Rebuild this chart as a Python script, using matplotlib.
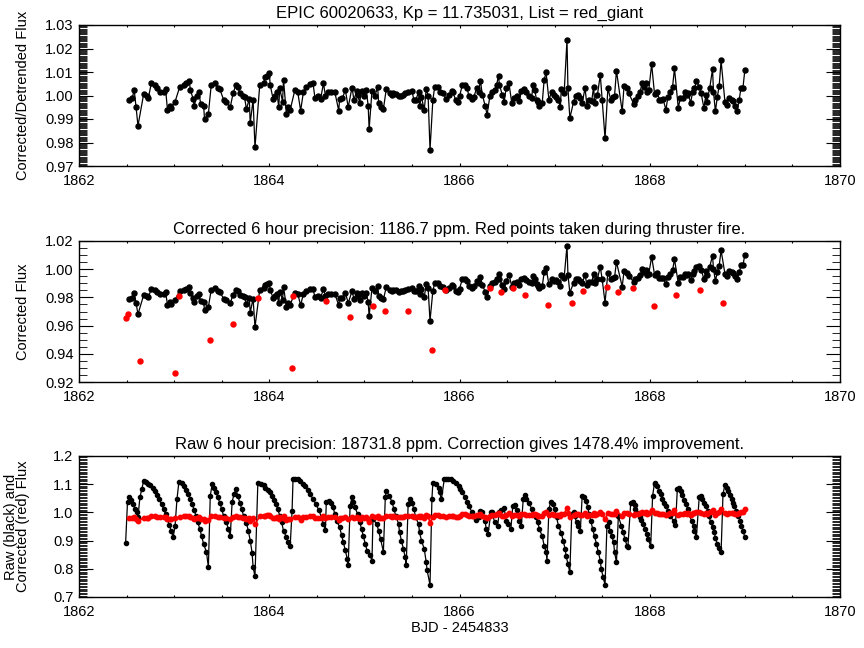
import numpy as np
import matplotlib.pyplot as plt
from matplotlib.ticker import MultipleLocator, FormatStrFormatter

plt.rcParams['font.family'] = ['Liberation Sans', 'DejaVu Sans']

# ---- detrended / corrected light curve (thruster fires removed) ----
t_good = [
    1862.53, 1862.56, 1862.58, 1862.60, 1862.62, 1862.68, 1862.71, 1862.73, 1862.76, 1862.80,
    1862.82, 1862.85, 1862.89, 1862.91, 1862.93, 1862.96, 1862.97, 1863.01, 1863.06, 1863.10,
    1863.13, 1863.16, 1863.17, 1863.20, 1863.21, 1863.24, 1863.26, 1863.28, 1863.31, 1863.32,
    1863.36, 1863.39, 1863.43, 1863.46, 1863.48, 1863.52, 1863.55, 1863.59, 1863.62, 1863.65,
    1863.67, 1863.69, 1863.72, 1863.74, 1863.76, 1863.79, 1863.80, 1863.83, 1863.85, 1863.90,
    1863.94, 1863.96, 1863.98, 1864.00, 1864.01, 1864.04, 1864.06, 1864.08, 1864.10, 1864.11,
    1864.14, 1864.15, 1864.18, 1864.20, 1864.22, 1864.27, 1864.30, 1864.33, 1864.36, 1864.39,
    1864.43, 1864.46, 1864.48, 1864.51, 1864.54, 1864.57, 1864.59, 1864.62, 1864.65, 1864.69,
    1864.73, 1864.74, 1864.77, 1864.80, 1864.83, 1864.87, 1864.89, 1864.92, 1864.93, 1864.95,
    1864.97, 1865.00, 1865.02, 1865.04, 1865.05,
    1865.08, 1865.11, 1865.14, 1865.15, 1865.17, 1865.20, 1865.23, 1865.27, 1865.29, 1865.30,
    1865.33, 1865.36, 1865.38, 1865.41, 1865.43, 1865.46, 1865.50,
    1865.52, 1865.54, 1865.57, 1865.58, 1865.60, 1865.63, 1865.65, 1865.67, 1865.69, 1865.72,
    1865.74, 1865.77, 1865.79, 1865.83, 1865.86, 1865.89, 1865.92, 1865.93, 1865.96, 1865.98,
    1866.00,
    1866.03, 1866.06, 1866.08, 1866.10, 1866.13, 1866.15, 1866.18, 1866.20, 1866.22, 1866.24,
    1866.27, 1866.29, 1866.32, 1866.34, 1866.37, 1866.39, 1866.41, 1866.42, 1866.45, 1866.47,
    1866.49,
    1866.52, 1866.55, 1866.57, 1866.60, 1866.63, 1866.65, 1866.68, 1866.70, 1866.73, 1866.76,
    1866.77, 1866.79, 1866.81, 1866.83, 1866.84, 1866.87, 1866.89, 1866.91, 1866.94, 1866.97,
    1866.99,
    1867.01, 1867.04, 1867.06, 1867.07, 1867.10, 1867.13, 1867.14, 1867.16, 1867.20, 1867.22,
    1867.25, 1867.27, 1867.29, 1867.32, 1867.34, 1867.36, 1867.39, 1867.41, 1867.42, 1867.45,
    1867.48,
    1867.50, 1867.53, 1867.56, 1867.59, 1867.61, 1867.63, 1867.65, 1867.71, 1867.73, 1867.76,
    1867.78, 1867.83, 1867.85, 1867.88, 1867.90, 1867.92, 1867.94, 1867.96, 1867.97, 1867.99,
    1868.02, 1868.05, 1868.08, 1868.10, 1868.12, 1868.14, 1868.17, 1868.19, 1868.21, 1868.24,
    1868.26, 1868.30, 1868.32, 1868.35, 1868.37, 1868.39, 1868.40, 1868.43, 1868.45, 1868.47,
    1868.49,
    1868.52, 1868.54, 1868.57, 1868.59, 1868.60, 1868.63, 1868.66, 1868.67, 1868.69, 1868.71,
    1868.73, 1868.75,
    1868.79, 1868.81, 1868.83, 1868.86, 1868.88, 1868.90, 1868.92, 1868.94, 1868.96, 1868.98,
    1869.00,
]
flux_detrended = [
    0.9982, 0.9989, 1.0024, 0.9950, 0.9871, 1.0007, 0.9999, 0.9991, 1.0052, 1.0045,
    1.0031, 1.0017, 1.0013, 1.0028, 0.9939, 0.9956, 0.9946, 0.9974, 1.0038, 1.0045,
    1.0052, 1.0062, 1.0024, 0.9986, 0.9956, 1.0000, 1.0013, 0.9963, 0.9956, 0.9899,
    0.9921, 1.0045, 1.0055, 1.0034, 1.0028, 0.9982, 0.9974, 0.9950, 1.0010, 1.0045,
    1.0038, 1.0010, 0.9999, 0.9993, 0.9942, 0.9986, 0.9882, 0.9982, 0.9779, 1.0045,
    1.0055, 1.0077, 1.0084, 1.0095, 1.0045, 0.9986, 0.9999, 1.0017, 0.9949, 1.0031,
    0.9974, 1.0067, 0.9922, 0.9953, 0.9939, 1.0024, 1.0013, 0.9936, 1.0017, 1.0038,
    1.0048, 1.0052, 0.9991, 0.9999, 0.9986, 1.0052, 1.0000, 1.0017, 1.0013, 1.0013,
    0.9936, 0.9984, 0.9989, 1.0024, 0.9950, 1.0034, 0.9982, 1.0020, 1.0003, 0.9970,
    1.0021, 0.9999, 1.0024, 0.9956, 0.9857,
    1.0020, 0.9999, 1.0035, 0.9967, 0.9950, 0.9942, 1.0027, 1.0010, 1.0003, 1.0010,
    1.0007, 0.9996, 0.9999, 1.0003, 1.0010, 1.0017, 1.0020,
    0.9982, 0.9982, 1.0013, 0.9956, 0.9993, 0.9939, 1.0028, 0.9999, 0.9769, 0.9982,
    1.0038, 1.0038, 1.0017, 1.0010, 0.9984, 1.0003, 1.0020, 1.0013, 0.9982, 0.9974,
    0.9996,
    1.0045, 1.0045, 1.0031, 0.9996, 0.9984, 0.9993, 1.0031, 1.0017, 1.0062, 1.0003,
    0.9956, 0.9918, 0.9999, 1.0017, 1.0024, 1.0045, 1.0084, 1.0045, 1.0003, 0.9974,
    1.0031,
    1.0052, 0.9967, 0.9989, 0.9996, 0.9977, 1.0020, 1.0027, 1.0013, 0.9999, 0.9989,
    1.0045, 1.0024, 0.9982, 0.9974, 0.9956, 0.9970, 1.0067, 1.0098, 0.9982, 1.0017,
    1.0003,
    0.9993, 0.9982, 0.9950, 1.0027, 1.0010, 1.0237, 1.0031, 0.9904, 0.9974, 0.9999,
    1.0003, 0.9989, 0.9970, 1.0031, 0.9956, 0.9982, 0.9977, 1.0038, 0.9970, 1.0003,
    1.0088,
    0.9982, 0.9818, 1.0031, 0.9982, 0.9993, 0.9999, 1.0106, 0.9932, 1.0041, 1.0031,
    1.0010, 0.9965, 0.9982, 0.9996, 1.0017, 1.0055, 1.0038, 1.0052, 1.0013, 1.0024,
    1.0133, 1.0007, 1.0017, 0.9982, 0.9982, 0.9984, 0.9939, 0.9993, 1.0013, 1.0038,
    1.0116, 0.9946, 0.9989, 0.9991, 1.0013, 1.0003, 1.0010, 0.9970, 1.0013, 1.0031,
    1.0060,
    1.0038, 1.0010, 0.9946, 1.0003, 0.9974, 1.0031, 1.0112, 1.0017, 0.9932, 0.9993,
    1.0041, 1.0149,
    0.9974, 0.9960, 0.9991, 0.9982, 0.9977, 0.9956, 0.9935, 0.9982, 1.0034, 1.0034,
    1.0109,
]
flux_corrected = [
    0.9792, 0.9799, 0.9834, 0.9760, 0.9681, 0.9817, 0.9809, 0.9801, 0.9862, 0.9855,
    0.9841, 0.9827, 0.9823, 0.9838, 0.9749, 0.9766, 0.9756, 0.9784, 0.9848, 0.9855,
    0.9862, 0.9872, 0.9834, 0.9796, 0.9766, 0.9810, 0.9823, 0.9773, 0.9766, 0.9709,
    0.9731, 0.9855, 0.9865, 0.9844, 0.9838, 0.9792, 0.9784, 0.9760, 0.9820, 0.9855,
    0.9848, 0.9820, 0.9809, 0.9803, 0.9752, 0.9796, 0.9692, 0.9792, 0.9589, 0.9855,
    0.9865, 0.9887, 0.9894, 0.9905, 0.9855, 0.9796, 0.9809, 0.9827, 0.9759, 0.9841,
    0.9784, 0.9877, 0.9732, 0.9763, 0.9749, 0.9834, 0.9823, 0.9746, 0.9827, 0.9848,
    0.9858, 0.9862, 0.9801, 0.9809, 0.9796, 0.9862, 0.9810, 0.9827, 0.9823, 0.9823,
    0.9746, 0.9794, 0.9799, 0.9834, 0.9760, 0.9844, 0.9792, 0.9830, 0.9813, 0.9780,
    0.9831, 0.9809, 0.9834, 0.9766, 0.9667,
    0.9865, 0.9844, 0.9880, 0.9812, 0.9795, 0.9787, 0.9872, 0.9855, 0.9848, 0.9855,
    0.9852, 0.9841, 0.9844, 0.9848, 0.9855, 0.9862, 0.9865,
    0.9847, 0.9847, 0.9878, 0.9821, 0.9858, 0.9804, 0.9893, 0.9864, 0.9634, 0.9847,
    0.9903, 0.9903, 0.9882, 0.9875, 0.9849, 0.9868, 0.9885, 0.9878, 0.9847, 0.9839,
    0.9861,
    0.9930, 0.9930, 0.9916, 0.9881, 0.9869, 0.9878, 0.9916, 0.9902, 0.9947, 0.9888,
    0.9841, 0.9803, 0.9884, 0.9902, 0.9909, 0.9930, 0.9969, 0.9930, 0.9888, 0.9859,
    0.9916,
    0.9962, 0.9877, 0.9899, 0.9906, 0.9887, 0.9930, 0.9937, 0.9923, 0.9909, 0.9899,
    0.9955, 0.9934, 0.9892, 0.9884, 0.9866, 0.9880, 0.9977, 1.0008, 0.9892, 0.9927,
    0.9913,
    0.9923, 0.9912, 0.9880, 0.9957, 0.9940, 1.0167, 0.9961, 0.9834, 0.9904, 0.9929,
    0.9933, 0.9919, 0.9900, 0.9961, 0.9886, 0.9912, 0.9907, 0.9968, 0.9900, 0.9933,
    1.0018,
    0.9927, 0.9763, 0.9976, 0.9927, 0.9938, 0.9944, 1.0051, 0.9877, 0.9986, 0.9976,
    0.9955, 0.9910, 0.9927, 0.9941, 0.9962, 1.0000, 0.9983, 0.9997, 0.9958, 0.9969,
    1.0088, 0.9962, 0.9972, 0.9937, 0.9937, 0.9939, 0.9894, 0.9948, 0.9968, 0.9993,
    1.0071, 0.9901, 0.9944, 0.9946, 0.9968, 0.9958, 0.9965, 0.9925, 0.9968, 0.9986,
    1.0015,
    1.0023, 0.9995, 0.9931, 0.9988, 0.9959, 1.0016, 1.0097, 1.0002, 0.9917, 0.9978,
    1.0026, 1.0134,
    0.9969, 0.9955, 0.9986, 0.9977, 0.9972, 0.9951, 0.9930, 0.9977, 1.0029, 1.0029,
    1.0104,
]

# ---- cadences taken during thruster fire (corrected flux) ----
t_fire = [1862.49, 1862.52, 1862.64, 1863.01, 1863.05, 1863.38, 1863.62, 1863.88,
          1864.24, 1864.25, 1864.60, 1864.85, 1865.09, 1865.22, 1865.46, 1865.71,
          1865.85, 1866.32, 1866.44, 1866.56, 1866.69, 1866.93, 1867.18, 1867.30,
          1867.55, 1867.67, 1867.82, 1868.04, 1868.28, 1868.53, 1868.77]
flux_fire = [0.9655, 0.9681, 0.9350, 0.9267, 0.9809, 0.9496, 0.9608, 0.9797,
             0.9296, 0.9809, 0.9773, 0.9662, 0.9740, 0.9702, 0.9702, 0.9430,
             0.9851, 0.9868, 0.9839, 0.9868, 0.9816, 0.9745, 0.9757, 0.9844,
             0.9875, 0.9835, 0.9870, 0.9738, 0.9820, 0.9851, 0.9757]

# ---- raw light curve ----
t_raw = [
    1862.49, 1862.51, 1862.53, 1862.55, 1862.57, 1862.59, 1862.61, 1862.62, 1862.64, 1862.66,
    1862.68, 1862.70, 1862.73, 1862.75, 1862.78, 1862.80, 1862.82, 1862.84, 1862.87, 1862.89,
    1862.91, 1862.93, 1862.95, 1862.97, 1862.99, 1863.01, 1863.03, 1863.05, 1863.08, 1863.10,
    1863.12, 1863.15, 1863.17, 1863.19, 1863.21, 1863.23, 1863.25, 1863.27, 1863.29, 1863.31,
    1863.34, 1863.36, 1863.38, 1863.40, 1863.42, 1863.44, 1863.46, 1863.48, 1863.50, 1863.52,
    1863.55, 1863.57, 1863.59, 1863.61, 1863.63, 1863.65, 1863.67, 1863.69, 1863.71, 1863.73,
    1863.76, 1863.78, 1863.80, 1863.82, 1863.83, 1863.85, 1863.88, 1863.91, 1863.94, 1863.96,
    1863.99, 1864.01, 1864.03, 1864.05, 1864.07, 1864.09, 1864.11, 1864.13, 1864.15, 1864.18,
    1864.20, 1864.22, 1864.24, 1864.25, 1864.27, 1864.30, 1864.32, 1864.35, 1864.38, 1864.41,
    1864.43, 1864.46, 1864.49, 1864.52, 1864.55, 1864.57, 1864.59, 1864.60, 1864.63, 1864.65,
    1864.67, 1864.69, 1864.71, 1864.74, 1864.76, 1864.78, 1864.80, 1864.82, 1864.83, 1864.85,
    1864.87, 1864.88, 1864.90, 1864.93, 1864.95, 1864.97, 1864.99, 1865.01, 1865.03, 1865.06,
    1865.08, 1865.09, 1865.13, 1865.15, 1865.17, 1865.20, 1865.22, 1865.23, 1865.26, 1865.29,
    1865.31, 1865.33, 1865.36, 1865.37, 1865.39, 1865.41, 1865.43, 1865.44, 1865.46, 1865.48,
    1865.50, 1865.52, 1865.54, 1865.57, 1865.58, 1865.60, 1865.63, 1865.65, 1865.66, 1865.69,
    1865.71, 1865.72, 1865.75, 1865.78, 1865.79, 1865.81, 1865.84, 1865.86, 1865.88, 1865.91,
    1865.93, 1865.96, 1865.99, 1866.01, 1866.03, 1866.06, 1866.08, 1866.10, 1866.13, 1866.14,
    1866.17, 1866.20, 1866.22, 1866.24, 1866.27, 1866.28, 1866.30, 1866.33, 1866.34, 1866.37,
    1866.40, 1866.42, 1866.44, 1866.47, 1866.49, 1866.51, 1866.54, 1866.56, 1866.58, 1866.60,
    1866.63, 1866.65, 1866.67, 1866.69, 1866.70, 1866.73, 1866.76, 1866.77, 1866.80, 1866.82,
    1866.84, 1866.87, 1866.89, 1866.91, 1866.92, 1866.94, 1866.96, 1866.98, 1867.00, 1867.02,
    1867.04, 1867.07, 1867.09, 1867.11, 1867.12, 1867.14, 1867.16, 1867.18, 1867.20, 1867.21,
    1867.23, 1867.25, 1867.27, 1867.29, 1867.31, 1867.33, 1867.35, 1867.36, 1867.38, 1867.40,
    1867.42, 1867.44, 1867.46, 1867.48, 1867.49, 1867.51, 1867.53, 1867.55, 1867.57, 1867.58,
    1867.60, 1867.62, 1867.63, 1867.65, 1867.67, 1867.70, 1867.72, 1867.74, 1867.76, 1867.77,
    1867.80, 1867.82, 1867.84, 1867.85, 1867.88, 1867.90, 1867.91, 1867.93, 1867.95, 1867.97,
    1867.98, 1868.01, 1868.03, 1868.05, 1868.06, 1868.08, 1868.10, 1868.12, 1868.13, 1868.15,
    1868.17, 1868.19, 1868.21, 1868.25, 1868.27, 1868.29, 1868.31, 1868.33, 1868.34, 1868.36,
    1868.38, 1868.40, 1868.41, 1868.44, 1868.46, 1868.47, 1868.49, 1868.52, 1868.54, 1868.55,
    1868.57, 1868.59, 1868.61, 1868.62, 1868.64, 1868.66, 1868.68, 1868.69, 1868.71, 1868.73,
    1868.75, 1868.77, 1868.79, 1868.81, 1868.82, 1868.84, 1868.86, 1868.88, 1868.89, 1868.91,
    1868.93, 1868.95, 1868.96, 1868.98, 1869.00,
]
flux_raw = [
    0.891, 1.038, 1.053, 1.045, 1.029, 1.012, 1.000, 0.982, 1.053, 1.082,
    1.112, 1.108, 1.102, 1.097, 1.088, 1.077, 1.062, 1.047, 1.029, 1.012,
    0.994, 0.976, 0.955, 0.935, 0.912, 0.953, 1.047, 1.108, 1.104, 1.094,
    1.080, 1.065, 1.047, 1.029, 1.009, 0.988, 0.965, 0.941, 0.915, 0.888,
    0.859, 0.806, 1.059, 1.100, 1.088, 1.073, 1.053, 1.035, 1.012, 0.988,
    0.965, 0.941, 0.915, 1.038, 1.065, 1.082, 1.059, 1.035, 1.012, 0.988,
    0.962, 0.935, 0.900, 0.856, 0.806, 0.773, 1.104, 1.102, 1.097, 1.088,
    1.080, 1.071, 1.059, 1.045, 1.029, 1.012, 0.988, 0.965, 0.935, 0.912,
    0.894, 0.880, 1.006, 1.118, 1.120, 1.118, 1.112, 1.102, 1.092, 1.080,
    1.065, 1.047, 1.029, 1.009, 0.982, 0.959, 0.939, 1.038, 1.041, 1.033,
    1.018, 0.994, 0.971, 0.947, 0.920, 0.894, 0.865, 0.835, 0.812, 1.024,
    1.053, 1.038, 1.018, 0.994, 0.967, 0.941, 0.915, 0.888, 0.862, 0.849,
    0.829, 0.976, 0.959, 0.935, 0.906, 0.861, 1.053, 1.077, 1.059, 1.038,
    1.012, 0.988, 0.959, 0.929, 0.900, 0.870, 0.841, 0.814, 1.029, 1.047,
    1.035, 1.012, 0.982, 0.959, 0.929, 0.900, 0.870, 0.823, 0.794, 0.743,
    1.047, 1.106, 1.100, 1.085, 1.071, 1.047, 1.118, 1.120, 1.120, 1.118,
    1.112, 1.104, 1.094, 1.082, 1.071, 1.053, 1.038, 1.021, 1.002, 0.988,
    0.974, 0.982, 1.004, 1.000, 0.971, 0.941, 0.923, 1.000, 1.002, 0.965,
    0.953, 1.002, 1.008, 1.014, 0.971, 0.959, 0.941, 1.024, 1.026, 1.009,
    0.971, 0.953, 1.047, 1.061, 1.047, 1.033, 1.012, 0.994, 0.982, 0.967,
    0.941, 0.915, 0.882, 0.861, 0.829, 1.012, 1.038, 1.029, 1.012, 0.982,
    0.953, 0.927, 0.900, 0.870, 0.847, 0.817, 0.788, 0.994, 1.000, 0.988,
    0.965, 0.953, 0.935, 1.059, 1.053, 1.041, 1.018, 0.994, 0.971, 0.941,
    0.915, 0.888, 0.859, 0.829, 0.800, 0.770, 0.743, 0.953, 0.965, 0.935,
    0.918, 0.894, 0.859, 0.823, 0.988, 0.953, 0.929, 0.906, 0.882, 0.876,
    1.035, 1.038, 1.026, 1.012, 0.998, 0.982, 0.974, 0.959, 0.941, 0.923,
    0.906, 0.882, 1.059, 1.104, 1.100, 1.092, 1.077, 1.065, 1.049, 1.035,
    1.024, 1.006, 0.988, 0.971, 0.955, 1.082, 1.085, 1.077, 1.061, 1.045,
    1.029, 1.012, 0.994, 0.971, 0.953, 0.935, 0.912, 1.053, 1.059, 1.049,
    1.035, 1.021, 1.006, 0.988, 0.967, 0.947, 0.929, 0.908, 0.888, 0.873,
    0.859, 1.065, 1.097, 1.088, 1.077, 1.061, 1.049, 1.035, 1.021, 1.006,
    0.988, 0.971, 0.953, 0.935, 0.912,
]

title_top = "EPIC 60020633, Kp = 11.735031, List = red_giant"
title_mid = "Corrected 6 hour precision: 1186.7 ppm. Red points taken during thruster fire."
title_bot = "Raw 6 hour precision: 18731.8 ppm. Correction gives 1478.4% improvement."

fig = plt.figure(figsize=(8.64, 6.48), dpi=100)
L, W, H = 79 / 864, 761 / 864, 141 / 648
ax1 = fig.add_axes([L, 1 - 166 / 648, W, H])
ax2 = fig.add_axes([L, 1 - 382 / 648, W, H])
ax3 = fig.add_axes([L, 1 - 597 / 648, W, H])


def idl_style(ax, ylim, ymaj, ymin, fmt):
    ax.set_xlim(1862, 1870)
    ax.set_ylim(*ylim)
    ax.xaxis.set_major_locator(MultipleLocator(2))
    ax.xaxis.set_minor_locator(MultipleLocator(0.5))
    ax.yaxis.set_major_locator(MultipleLocator(ymaj))
    ax.yaxis.set_minor_locator(MultipleLocator(ymin))
    ax.yaxis.set_major_formatter(FormatStrFormatter(fmt))
    ax.tick_params(which='both', direction='in', top=True, right=True,
                   labelsize=10.5, width=0.8, color='k')
    ax.tick_params(axis='x', which='major', length=2.2, pad=6)
    ax.tick_params(axis='x', which='minor', length=1.2)
    ax.tick_params(axis='y', which='major', length=10, pad=4)
    ax.tick_params(axis='y', which='minor', length=5.5, width=0.6)
    for s in ax.spines.values():
        s.set_linewidth(1.0)


ms = 3.6

# top: corrected / detrended flux
ax1.plot(t_good, flux_detrended, '-o', color='k', lw=0.9, ms=ms)
idl_style(ax1, (0.97, 1.03), 0.01, 0.0005, '%.2f')
ax1.set_title(title_top, fontsize=12, pad=5)
ax1.set_ylabel("Corrected/Detrended Flux", fontsize=10.5)
ax1.yaxis.set_label_coords(-0.064, 0.5)

# middle: corrected flux with thruster-fire points in red
ax2.plot(t_good, flux_corrected, '-o', color='k', lw=0.9, ms=ms)
ax2.plot(t_fire, flux_fire, 'o', color='red', ms=ms, ls='none')
idl_style(ax2, (0.92, 1.02), 0.02, 0.005, '%.2f')
ax2.set_title(title_mid, fontsize=12, pad=5)
ax2.set_ylabel("Corrected Flux", fontsize=10.5)
ax2.yaxis.set_label_coords(-0.064, 0.5)

# bottom: raw (black) and corrected (red)
ax3.plot(t_raw, flux_raw, '-o', color='k', lw=0.9, ms=3.0)
ax3.plot(t_good, flux_corrected, '-o', color='red', lw=1.2, ms=3.2)
idl_style(ax3, (0.7, 1.2), 0.1, 0.005, '%.1f')
ax3.set_title(title_bot, fontsize=12, pad=5)
ax3.set_ylabel("Raw (black) and\nCorrected (red) Flux", fontsize=10.5, linespacing=0.85)
ax3.yaxis.set_label_coords(-0.064, 0.5)
ax3.set_xlabel("BJD - 2454833", fontsize=10.5, labelpad=1)

fig.savefig("out.png", dpi=100)
